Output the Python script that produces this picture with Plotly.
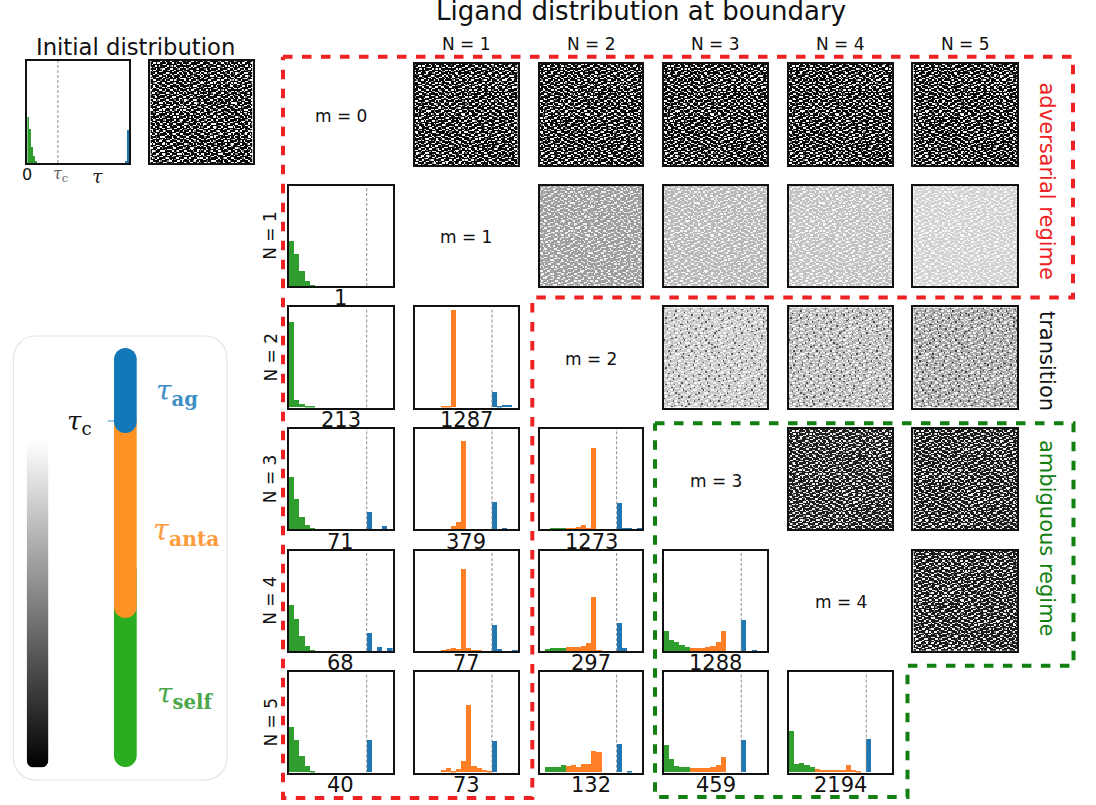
import plotly.graph_objects as go

W, H = 1096, 805

# ---------- values (bar height as a share of the panel height, 20 bins) ----------
INIT_BINS = [.45, .33, .16, .065, .016] + [0] * 43 + [.015, .32]   # 50 bins
N1_M0 = [.45, .32, .157, .056, .013] + [0] * 15
N2_M0 = [.85, .075, .036, .016, .007] + [0] * 15
N2_M1 = [0, 0, 0, 0, 0, .004, .005, .967, 0, 0, 0, 0, 0, 0, 0, .154, .01, .025, .025, 0]
N3_M0 = [.525, .30, .125, .043, .016] + [0] * 10 + [.17, 0, 0, .033, 0]
N3_M1 = [0, 0, 0, 0, 0, 0, 0, .03, .07, .885, 0, 0, 0, 0, 0, .27, 0, .005, 0, 0]
N3_M2 = [0, 0, .005, .008, .01, .012, .015, .02, .04, .015, .81, 0, 0, 0, 0, .26, .012, .012, 0, .005]
N4_M0 = [.46, .32, .154, .056, .013] + [0] * 10 + [.18, 0, .043, 0, .036]
N4_M1 = [0, 0, 0, 0, 0, .005, .02, .028, .02, .816, .03, .015, .008, 0, 0, .26, .02, 0, 0, .007]
N4_M2 = [0, .026, .036, .036, .036, .04, .045, .045, .055, .08, .54, .01, 0, 0, 0, .285, .033, 0, 0, 0]
N4_M3 = [.2, .115, .09, .065, .043, .03, .03, .035, .04, .05, .095, .2, 0, 0, 0, .31, 0, .01, 0, 0]
N5_M0 = [.45, .32, .157, .06, .013] + [0] * 10 + [.325, 0, 0, 0, 0]
N5_M1 = [0, 0, 0, 0, 0, .023, .043, .01, .033, .108, .67, .066, .04, .02, .003, .315, 0, 0, 0, 0]
N5_M2 = [0, .05, .055, .055, .07, .065, .072, .055, .085, .085, .213, .2, 0, 0, 0, .28, 0, .016, 0, 0]
N5_M3 = [.27, .134, .066, .05, .05, .046, .04, .045, .045, .05, .07, .15, 0, 0, 0, .32, 0, 0, 0, 0]
N5_M4 = [.41, .085, .09, .07, .05, .03, .025, .025, .025, .025, .025, .07, .026, .01, 0, .335, 0, 0, 0, 0]

COUNTS = {"N1_M0": "1", "N2_M0": "213", "N2_M1": "1287", "N3_M0": "71", "N3_M1": "379", "N3_M2": "1273",
          "N4_M0": "68", "N4_M1": "77", "N4_M2": "297", "N4_M3": "1288", "N5_M0": "40", "N5_M1": "73",
          "N5_M2": "132", "N5_M3": "459", "N5_M4": "2194"}
HISTS = {"N1_M0": N1_M0, "N2_M0": N2_M0, "N2_M1": N2_M1, "N3_M0": N3_M0, "N3_M1": N3_M1, "N3_M2": N3_M2,
         "N4_M0": N4_M0, "N4_M1": N4_M1, "N4_M2": N4_M2, "N4_M3": N4_M3, "N5_M0": N5_M0, "N5_M1": N5_M1,
         "N5_M2": N5_M2, "N5_M3": N5_M3, "N5_M4": N5_M4}

# hand-typed texture for the lattice panels: it imitates the speckle, it is not a cell-by-cell reading
SPECKLE = [
    "001102000111000201100000120011000102",
    "110000120000211000011010000100210010",
    "000110001100010102000111002000011000",
    "012001000021100000110000110110000121",
    "100000211000000120001200000001102000",
    "001110000100110011000000211000100011",
    "200011001120001000011101000010000100",
    "010000100000210002000010001120011000",
    "011200011100000110210000110000200102",
    "000010000020111000001120000101000110",
    "110001102000000011000001200011100000",
    "002100010011000210010000010000021001",
    "000011200000120000001110000210000110",
    "101000001101001100200000112000101000",
    "010012000100000011000210000001000012",
    "000100110002110000011001000110020100",
    "120000021000001002100000021000110000",
    "001101000010200110000110100001200011",
    "000020011100000100012000011000000100",
    "011000000011010000100001200110011000",
    "100110200000100211000110000002100002",
    "002000011001000000110000011000000110",
    "010011000120000110002001000110120000",
    "110000100000111000000100220000010011",
    "000210001100002001100010001001000100",
    "001000210000110000011000100012000010",
    "100110000011000100200011000100110200",
    "000100012000100011000000112000001001",
    "021000100110002000011200000011000110",
    "100001100000010110000100021000100000",
    "001200000210000001002110000110002100",
    "010011010000110200000001100000010011",
    "000000101200000011010000010210100000",
    "110120000011001000000211000000001100",
    "000011000000100110110000100011020001",
    "002000110100020000001001000100000110",
]

# grey of the three speckle levels in each lattice panel
INIT_GREYS = (.03, .97, .5)
TOP_GREYS = (.03, .97, .5)
N1_GREYS = [(.62, .95, .68), (.72, .97, .78), (.76, .98, .82), (.82, .98, .88)]
N2_GREYS = [(.78, .97, .35), (.72, .97, .30), (.65, .95, .25)]
N3_GREYS = [(.12, .95, .6), (.10, .95, .6)]
N4_GREYS = [(.10, .95, .5)]

COL_LABELS = ["N = 1", "N = 2", "N = 3", "N = 4", "N = 5"]
ROW_LABELS = ["N = 1", "N = 2", "N = 3", "N = 4", "N = 5"]
M_LABELS = ["m = 0", "m = 1", "m = 2", "m = 3", "m = 4"]

GREEN, ORANGE, BLUE = "#2f9e2f", "#ff7f27", "#1f77b4"

# ---------- layout in pixels ----------
COLS = [(288.3, 393.3), (414.3, 518.3), (539, 643), (663.3, 767.7), (788.3, 892.7), (912.7, 1018)]
ROWS = [(63.3, 165.7), (185, 286.7), (306.7, 408.3), (428.3, 530), (550, 651.7), (671.7, 773.3)]
INSET = .7


def px(x):
    return x / W


def py(y):
    return 1 - y / H


fig = go.Figure()
layout = {}
count = [0]


def new_axes(x0, x1, y0, y1, xr, yr, frame="#111"):
    count[0] += 1
    n = count[0]
    s = "" if n == 1 else str(n)
    common = dict(showticklabels=False, ticks="", showgrid=False, zeroline=False, showline=True,
                  mirror=True, linecolor=frame, linewidth=1.5, fixedrange=True)
    layout["xaxis" + s] = dict(domain=[px(x0 + INSET), px(x1 - INSET)], range=xr, anchor="y" + s, **common)
    layout["yaxis" + s] = dict(domain=[py(y1 - INSET), py(y0 + INSET)], range=yr, anchor="x" + s, **common)
    return "x" + s, "y" + s


def hist(box_x, box_y, vals, tau_bin, low_end=5):
    xa, ya = new_axes(box_x[0], box_x[1], box_y[0], box_y[1], [0, len(vals)], [0, 1])
    colors = [GREEN if i < low_end else ORANGE if i < tau_bin else BLUE for i in range(len(vals))]
    fig.add_trace(go.Bar(x=[i + .5 for i in range(len(vals))], y=vals, width=1, marker=dict(color=colors, line_width=0),
                         xaxis=xa, yaxis=ya, showlegend=False, hoverinfo="skip"))
    fig.add_shape(type="line", x0=tau_bin, x1=tau_bin, y0=0, y1=1, xref=xa, yref=ya,
                  line=dict(color="#8c8c8c", width=1, dash="3px,2px"))


def lattice(box_x, box_y, greys):
    xa, ya = new_axes(box_x[0], box_x[1], box_y[0], box_y[1], [-.5, 71.5], [-.5, 71.5])
    tile = [(r * 2)[:36] for r in SPECKLE]
    rows = [[greys[int(tile[(k + 17 * (l >= 36)) % 36][(l + 13 * (k >= 36)) % 36])] for l in range(72)]
            for k in range(72)]
    fig.add_trace(go.Heatmap(z=rows, colorscale=[[0, "#000"], [1, "#fff"]], zmin=0, zmax=1,
                             showscale=False, xaxis=xa, yaxis=ya, hoverinfo="skip"))


def label(text, x, y, size, color="#111", angle=0, family="DejaVu Sans"):
    fig.add_annotation(text=text, x=px(x), y=py(y), xref="paper", yref="paper", showarrow=False,
                       xanchor="center", yanchor="middle", textangle=angle,
                       font=dict(size=size, color=color, family=family))


# initial distribution: 50 bins, threshold drawn at tau_c
hist((26.7, 129.7), (60.3, 163.7), INIT_BINS, 15, low_end=25)
lattice((149.7, 253.3), (60.3, 163.7), INIT_GREYS)

# lattice panels above the diagonal
greys_by_row = [[TOP_GREYS] * 5, N1_GREYS, N2_GREYS, N3_GREYS, N4_GREYS]
for r, row_greys in enumerate(greys_by_row):
    first = r + 1
    for k, g in enumerate(row_greys):
        lattice(COLS[first + k], ROWS[r], g)

# histograms below the diagonal
for key, vals in HISTS.items():
    n, m = int(key[1]), int(key[4])
    hist(COLS[m], ROWS[n], vals, 15)
    label(COUNTS[key], sum(COLS[m]) / 2, ROWS[n][1] + 11.5, 21)

# text
label("Ligand distribution at boundary", 641, 11, 26)
label("Initial distribution", 135.5, 47, 22.7)
for i, t in enumerate(COL_LABELS):
    label(t, sum(COLS[i + 1]) / 2, 44, 17)
for i, t in enumerate(ROW_LABELS):
    label(t, 270, sum(ROWS[i + 1]) / 2, 17, angle=-90)
for i, t in enumerate(M_LABELS):
    label(t, sum(COLS[i]) / 2, sum(ROWS[i]) / 2 + 1.5, 17)
label("adversarial regime", 1047, 180.5, 21, "#ee2222", 90)
label("transition", 1047, 361, 21, "#111", 90)
label("ambiguous regime", 1047, 538, 21, "#118011", 90)
label("0", 27, 175, 16)
label("<i>τ</i><sub>c</sub>", 60, 175, 16, "#666", family="DejaVu Serif")
label("<i>τ</i>", 97, 176, 19, "#222", family="DejaVu Serif")
label("<i>τ</i><sub>c</sub>", 79, 422, 26, "#111", family="DejaVu Serif")
label("<i>τ</i><sub><b>ag</b></sub>", 176.5, 392, 28, "#3f8fc6", family="DejaVu Serif")
label("<i>τ</i><sub><b>anta</b></sub>", 186, 532, 29, "#ff9a3c", family="DejaVu Serif")
label("<i>τ</i><sub><b>self</b></sub>", 185, 695, 28, "#4aa84a", family="DejaVu Serif")


# ---------- frames and legend panel ----------
def rounded(x0, y0, x1, y1, r):
    k = r * .45
    pts = [("M", x0 + r, y0), ("L", x1 - r, y0), ("C", x1 - k, y0, x1, y0 + k, x1, y0 + r), ("L", x1, y1 - r),
           ("C", x1, y1 - k, x1 - k, y1, x1 - r, y1), ("L", x0 + r, y1), ("C", x0 + k, y1, x0, y1 - k, x0, y1 - r),
           ("L", x0, y0 + r), ("C", x0, y0 + k, x0 + k, y0, x0 + r, y0)]
    out = ""
    for p in pts:
        coords = p[1:]
        out += p[0] + " ".join(f"{px(coords[i]):.5f},{py(coords[i + 1]):.5f}" for i in range(0, len(coords), 2)) + " "
    return out + "Z"


def add_path(path, fill=None, line=None, width=0, dash=None, layer="above"):
    fig.add_shape(type="path", path=path, xref="paper", yref="paper", layer=layer, fillcolor=fill or "rgba(0,0,0,0)",
                  line=dict(color=line or "rgba(0,0,0,0)", width=width, dash=dash or "solid"))


add_path(rounded(13.5, 336, 227, 780, 22), line="#e4e4e4", width=1.2, layer="below")

# gradient bar
xa, ya = new_axes(26, 49, 440, 768, [0, 1], [0, 1], frame="rgba(0,0,0,0)")
GRADIENT = [[0, 0], [1, 1]]
fig.add_trace(go.Heatmap(z=GRADIENT, x=[0, 1], y=[0, 1], zsmooth="best", colorscale=[[0, "#000"], [1, "#fff"]],
                         showscale=False, xaxis=xa, yaxis=ya, hoverinfo="skip"))
r = 11.5
for cx, sgn in ((26, 1), (49, -1)):
    fig.add_shape(type="path", xref="paper", yref="paper", line_width=0, fillcolor="#fff",
                  path=f"M{px(cx)},{py(768.5)} L{px(cx + sgn * r)},{py(768.5)} "
                       f"Q{px(cx)},{py(768.5)} {px(cx)},{py(768.5 - r)} Z")

add_path(rounded(114, 560, 136.7, 767, 11.3), fill="#2aae1f")
add_path(rounded(114, 410, 136.7, 618, 11.3), fill="#ff9225")
add_path(rounded(114, 348, 136.7, 433, 11.3), fill="#1278b8")
fig.add_shape(type="line", x0=px(107.5), x1=px(114), y0=py(421), y1=py(421), xref="paper", yref="paper",
              line=dict(color="#4a90c4", width=1))

RED = "#ee2222"
DARK_GREEN = "#118011"
DASH = "9.5px,9.5px"
red_pts = [(283, 56.7), (1073, 56.7), (1073, 297.5), (532.3, 297.5), (532.3, 798), (283, 798), (283, 56.7)]
green_pts = [(655, 423.3), (1073.5, 423.3), (1073.5, 665.7), (907.5, 665.7), (907.5, 797), (655, 797), (655, 423.3)]
add_path("M" + " L".join(f"{px(x):.5f},{py(y):.5f}" for x, y in red_pts), line=RED, width=4, dash=DASH)
add_path("M" + " L".join(f"{px(x):.5f},{py(y):.5f}" for x, y in green_pts), line=DARK_GREEN, width=4, dash=DASH)

fig.update_layout(width=W, height=H, autosize=False, margin=dict(l=0, r=0, t=0, b=0), paper_bgcolor="#fff",
                  plot_bgcolor="rgba(0,0,0,0)", showlegend=False, bargap=0, **layout)
fig.write_html("out.html", config={"displayModeBar": False},
               post_script="document.body.style.margin='0';document.body.style.overflow='hidden';")
